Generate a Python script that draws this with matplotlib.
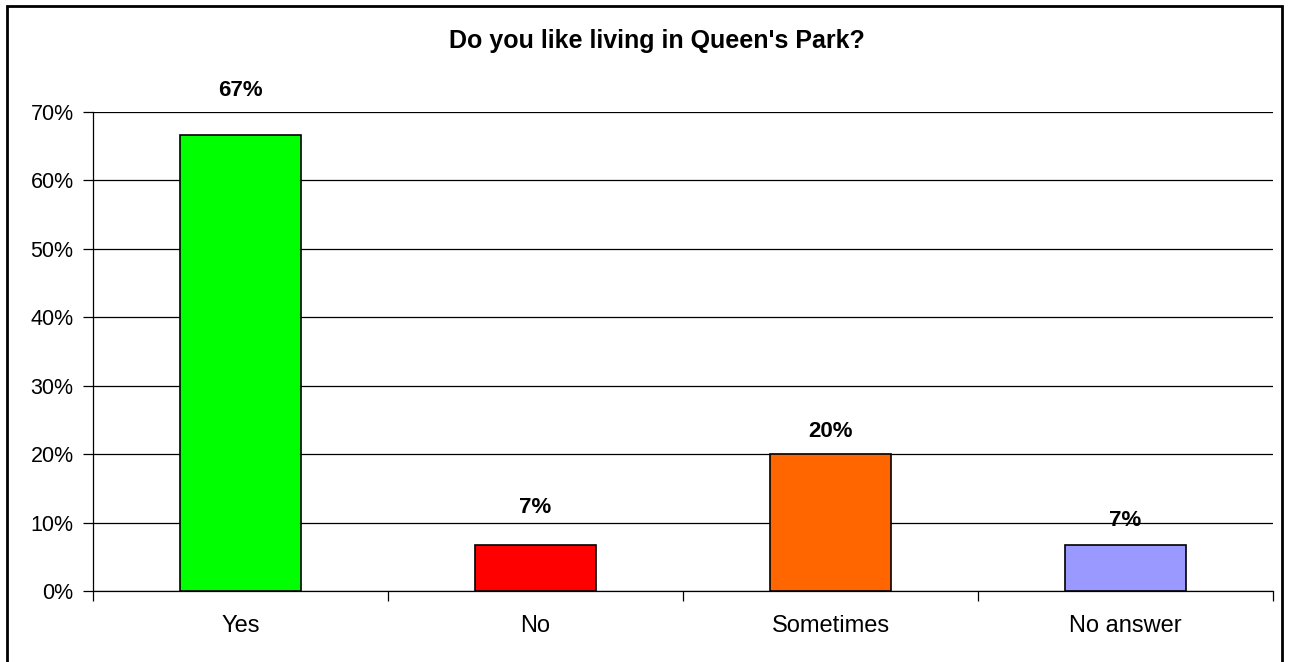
import numpy as np
import matplotlib.pyplot as plt
from matplotlib.patches import Rectangle
from matplotlib.ticker import PercentFormatter, FixedLocator

plt.rcParams['font.family'] = ['Liberation Sans', 'DejaVu Sans']

# data
categories = ["Yes", "No", "Sometimes", "No answer"]
values = [2 / 3, 1 / 15, 0.20, 1 / 15]
labels = ["67%", "7%", "20%", "7%"]
colors = ["#00FF00", "#FF0000", "#FF6600", "#9999FF"]
label_offsets = [31.5, 27, 16.5, 18]  # points from bar top to label centre

fig = plt.figure(figsize=(12.89, 6.62), dpi=100)
ax = fig.add_axes([93 / 1289, 1 - 591 / 662, (1273 - 93) / 1289, (591 - 111.7) / 662])

x = np.arange(len(categories))
ax.bar(x, values, width=0.41, color=colors, edgecolor="black", linewidth=1.2, zorder=3)

for xi, v, lab, off in zip(x, values, labels, label_offsets):
    ax.annotate(lab, (xi, v), xytext=(0, off), textcoords="offset points",
                ha="center", va="center", fontsize=16, fontweight="bold", zorder=4)

ax.set_xlim(-0.5, len(categories) - 0.5)
ax.set_ylim(0, 0.7)
ax.set_yticks(np.arange(0, 0.71, 0.1))
ax.yaxis.set_major_formatter(PercentFormatter(1.0, decimals=0))
ax.grid(axis="y", color="black", linewidth=0.9, zorder=0)

ax.set_xticks(x)
ax.set_xticklabels(categories)
ax.xaxis.set_minor_locator(FixedLocator(np.arange(-0.5, len(categories), 1.0)))
ax.tick_params(axis="x", which="major", length=0, pad=17, labelsize=17)
ax.tick_params(axis="x", which="minor", length=7, direction="out", width=0.9)
ax.tick_params(axis="y", length=7, width=0.9, labelsize=15.5, pad=7)

for s in ["top", "right"]:
    ax.spines[s].set_visible(False)
for s in ["left", "bottom"]:
    ax.spines[s].set_linewidth(0.9)

fig.text(657 / 1289, 1 - 41 / 662, "Do you like living in Queen's Park?",
         ha="center", va="center", fontsize=18, fontweight="bold")

fig.patches.append(Rectangle((7 / 1289, -0.01), (1282 - 7) / 1289, 1 - 6 / 662 + 0.01,
                             transform=fig.transFigure, fill=False,
                             edgecolor="black", linewidth=2))

fig.savefig("out.png", dpi=100)
